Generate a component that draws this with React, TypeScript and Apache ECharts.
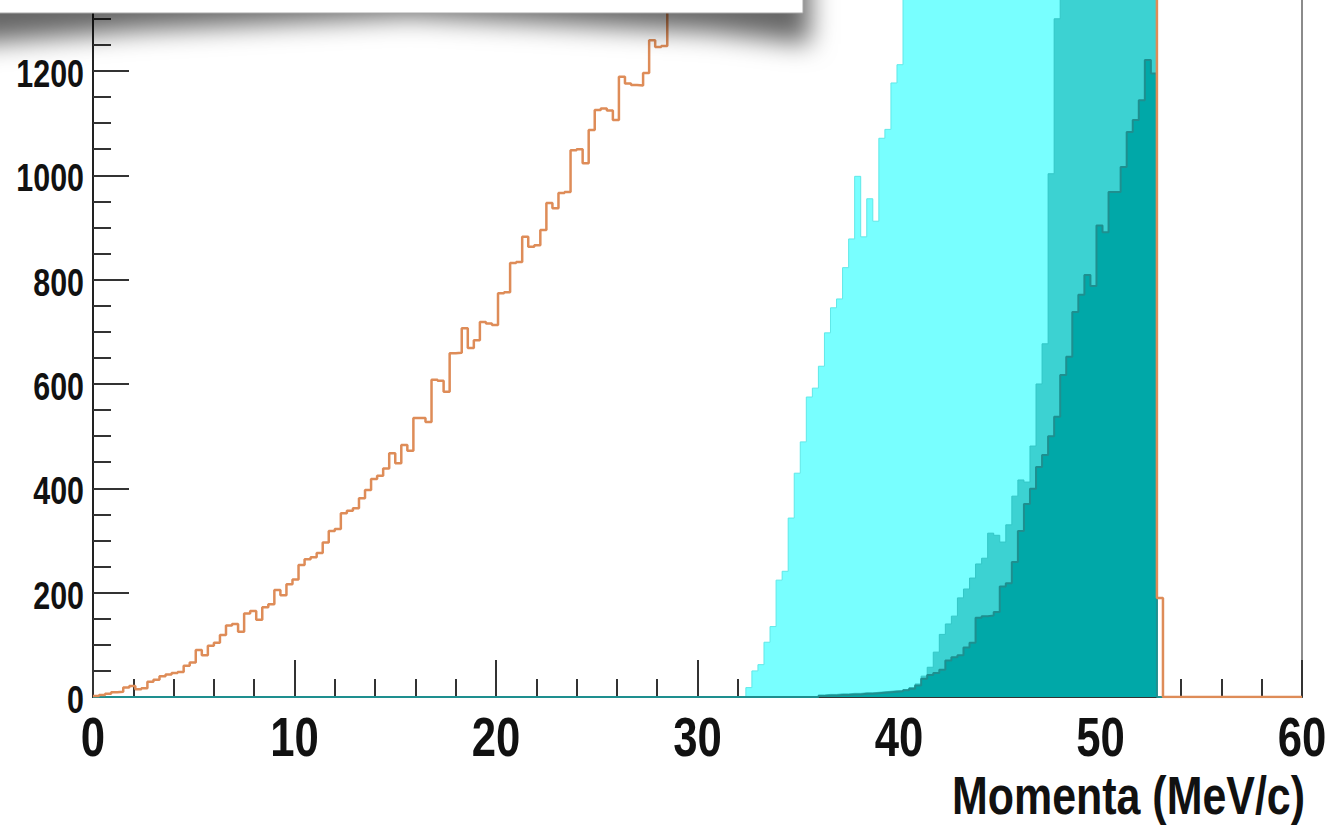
import React, { useEffect, useRef } from "react";
import * as echarts from "echarts";

// Histogram binning (MeV/c)
const BIN_WIDTH = 0.3;
const BIN_COUNT = 200; // 0 .. 60 MeV/c

// Orange histogram (outline), first bin at 0.0 MeV/c; values above ~1340 are outside the visible frame (estimated)
const ORANGE_START = 0;
const orangeValues = [
  2, 4, 6, 9, 10, 18, 21, 15, 17, 29,
  33, 40, 43, 46, 48, 60, 66, 90, 80, 98,
  104, 119, 137, 140, 125, 160, 165, 148, 172, 178,
  205, 195, 216, 225, 253, 264, 268, 276, 296, 318,
  322, 352, 357, 362, 381, 397, 418, 424, 438, 467,
  448, 483, 472, 535, 535, 527, 608, 606, 585, 659,
  660, 707, 669, 684, 719, 716, 713, 774, 776, 832,
  834, 882, 863, 866, 895, 947, 937, 966, 968, 1048,
  1050, 1023, 1087, 1125, 1128, 1124, 1106, 1189, 1176, 1173,
  1172, 1196, 1259, 1246, 1248,
  1380, 1395, 1410, 1430, 1450, 1465, 1485, 1500, 1520, 1535,
  1555, 1570, 1590, 1605, 1620, 1640, 1655, 1670, 1690, 1705,
  1720, 1735, 1750, 1765, 1780, 1795, 1810, 1825, 1840, 1855,
  1870, 1880, 1895, 1910, 1920, 1935, 1945, 1960, 1970, 1985,
  1995, 2005, 2020, 2030, 2040, 2050, 2060, 2070, 2080, 2090,
  2100, 2110, 2120, 2130, 2140, 2150, 2160, 2170, 2180, 2190,
  2200, 2210, 2220, 2230, 2240, 2250, 2260, 2270, 2280, 2290,
  2300, 2305, 2310, 2315, 2320, 2320, 2325, 2325, 2330, 2330,
  2330, 190,
];

// Light cyan histogram, first bin at 32.4 MeV/c
const CYAN_START = 108;
const cyanValues = [
  18, 50, 62, 105, 135, 224, 241, 343, 429, 489,
  575, 592, 634, 698, 746, 763, 823, 878, 998, 882,
  955, 912, 1071, 1088, 1177, 1212,
  1380, 1420, 1460, 1500, 1540, 1580, 1610, 1640, 1670, 1700,
  1730, 1760, 1790, 1810, 1830, 1850, 1870, 1890, 1910, 1930,
  1950, 1960, 1970, 1980, 1990, 2000, 2010, 2020, 2030, 2040,
  2050, 2055, 2060, 2065, 2070, 2075, 2080, 2085, 2090, 2095,
  2100, 2100,
];

// Turquoise histogram, first bin at 36.0 MeV/c
const TURQ_START = 120;
const turquoiseValues = [
  4, 5, 5, 6, 6, 7, 7, 8, 8, 9,
  10, 11, 12, 12, 14, 18, 25, 40, 57, 86,
  120, 140, 155, 190, 207, 228, 255, 266, 314, 310,
  297, 330, 385, 416, 412, 481, 600, 677, 1003, 1300,
  1420, 1460, 1500, 1540, 1570, 1600, 1630, 1660, 1690, 1720,
  1740, 1760, 1780, 1800, 1820, 1830,
];

// Dark teal histogram, first bin at 36.0 MeV/c
const TEAL_START = 120;
const tealValues = [
  2, 3, 3, 4, 4, 5, 5, 6, 6, 7,
  8, 9, 10, 11, 13, 16, 22, 35, 42, 46,
  52, 70, 76, 80, 95, 104, 152, 155, 156, 163,
  212, 218, 259, 318, 370, 399, 441, 464, 500, 537,
  617, 652, 738, 771, 809, 788, 904, 891, 968, 968,
  1016, 1083, 1106, 1144, 1221, 1195,
];

// Axis ticks
const X_MIN = 0;
const X_MAX = 60;
const X_STEP = 10;
const X_TICK_LABELS = [0, 10, 20, 30, 40, 50, 60];
const Y_MIN = 0;
const Y_MAX = 1400;
const Y_STEP = 200;
const Y_TICK_LABELS = [0, 200, 400, 600, 800, 1000, 1200];
const X_TITLE = "Momenta (MeV/c)";

function histPoints(start: number, values: number[]): number[][] {
  const pts: number[][] = [];
  for (let i = 0; i < BIN_COUNT; i++) {
    const k = i - start;
    const v = k >= 0 && k < values.length ? values[k] : 0;
    const lo = +(i * BIN_WIDTH).toFixed(2);
    const hi = +((i + 1) * BIN_WIDTH).toFixed(2);
    pts.push([lo, v], [hi, v]);
  }
  return pts;
}

const FONT = "'Liberation Sans', Arial, Helvetica, sans-serif";
const TEXT_COLOR = "#111";

export default function App() {
  const ref = useRef<HTMLDivElement>(null);

  useEffect(() => {
    if (!ref.current) return;
    const chart = echarts.init(ref.current, undefined, { renderer: "svg" });

    const fillSeries = (name: string, start: number, values: number[], fill: string, line: string, lw: number, z: number) => ({
      name,
      type: "line",
      data: histPoints(start, values),
      showSymbol: false,
      symbol: "none",
      z,
      lineStyle: { color: line, width: lw },
      areaStyle: { color: fill, opacity: 1 },
      clip: true,
    });

    chart.setOption({
      animation: false,
      backgroundColor: "#ffffff",
      grid: {
        left: 93,
        right: 30,
        top: 697 - 1400 * 0.5217,
        bottom: 133,
        show: true,
        borderColor: "#666",
        borderWidth: 1.5,
        backgroundColor: "transparent",
        containLabel: false,
        outerBoundsMode: "none",
      },
      xAxis: {
        type: "value",
        min: X_MIN,
        max: X_MAX,
        interval: X_STEP,
        axisLine: { show: true, lineStyle: { color: "#333", width: 2 } },
        axisTick: { show: true, inside: true, length: 37, lineStyle: { color: "#333", width: 2 } },
        minorTick: { show: true, splitNumber: 5, length: 18, lineStyle: { color: "#333", width: 2 } },
        splitLine: { show: false },
        axisLabel: { show: false },
      },
      yAxis: {
        type: "value",
        min: Y_MIN,
        max: Y_MAX,
        interval: Y_STEP,
        axisLine: { show: true, lineStyle: { color: "#222", width: 2 } },
        axisTick: { show: true, inside: true, length: 36, lineStyle: { color: "#333", width: 2 } },
        minorTick: { show: true, splitNumber: 4, length: 18, lineStyle: { color: "#333", width: 2 } },
        splitLine: { show: false },
        axisLabel: { show: false },
      },
      series: [
        fillSeries("cyan", CYAN_START, cyanValues, "#78ffff", "#60e8e8", 1, 1),
        fillSeries("turquoise", TURQ_START, turquoiseValues, "#3cd2d2", "#33c6c6", 1, 2),
        fillSeries("teal", TEAL_START, tealValues, "#00a8a8", "#1e8f8f", 2, 3),
        {
          name: "orange",
          type: "line",
          data: histPoints(ORANGE_START, orangeValues),
          showSymbol: false,
          symbol: "none",
          z: 4,
          lineStyle: { color: "#de8c58", width: 2.5 },
          clip: true,
        },
      ],
    });

    // Narrow (condensed) tick labels placed at the axis' own pixel positions
    const labels: any[] = [];
    X_TICK_LABELS.forEach((v) => {
      const p = chart.convertToPixel({ gridIndex: 0 }, [v, 0]) as number[];
      labels.push({
        type: "text",
        x: p[0],
        y: p[1] + 40,
        scaleX: 0.78,
        z: 50,
        silent: true,
        style: {
          text: String(v),
          fontFamily: FONT,
          fontWeight: "bold",
          fontSize: 56,
          fill: TEXT_COLOR,
          align: "center",
          verticalAlign: "middle",
        },
      });
    });
    Y_TICK_LABELS.forEach((v) => {
      const p = chart.convertToPixel({ gridIndex: 0 }, [0, v]) as number[];
      labels.push({
        type: "text",
        x: p[0] - 9,
        y: p[1] + 2,
        scaleX: 0.78,
        z: 50,
        silent: true,
        style: {
          text: String(v),
          fontFamily: FONT,
          fontWeight: "bold",
          fontSize: 39,
          fill: TEXT_COLOR,
          align: "right",
          verticalAlign: "middle",
        },
      });
    });
    const xEnd = chart.convertToPixel({ gridIndex: 0 }, [X_MAX, 0]) as number[];
    labels.push({
      type: "text",
      x: xEnd[0] + 3,
      y: xEnd[1] + 98,
      scaleX: 0.81,
      z: 50,
      silent: true,
      style: {
        text: X_TITLE,
        fontFamily: FONT,
        fontWeight: "bold",
        fontSize: 53,
        fill: TEXT_COLOR,
        align: "right",
        verticalAlign: "middle",
      },
    });

    chart.setOption({
      graphic: [
        ...labels,
        {
          type: "polygon",
          z: 100,
          silent: true,
          shape: {
            points: [
              [-40, -80], [800, -80], [800, 12], [700, 0], [400, -16], [130, -2], [-40, 12],
            ],
          },
          style: {
            fill: "#888",
            shadowBlur: 26,
            shadowColor: "rgba(0,0,0,0.6)",
            shadowOffsetX: 10,
            shadowOffsetY: 32,
          },
        },
        {
          type: "rect",
          z: 101,
          silent: true,
          shape: { x: -2, y: -20, width: 805, height: 33 },
          style: { fill: "#ffffff", stroke: "#a8a8a8", lineWidth: 1 },
        },
      ],
    });

    return () => chart.dispose();
  }, []);

  return (
    <div
      ref={ref}
      style={{ position: "fixed", left: 0, top: 0, width: 1332, height: 830 }}
    />
  );
}
